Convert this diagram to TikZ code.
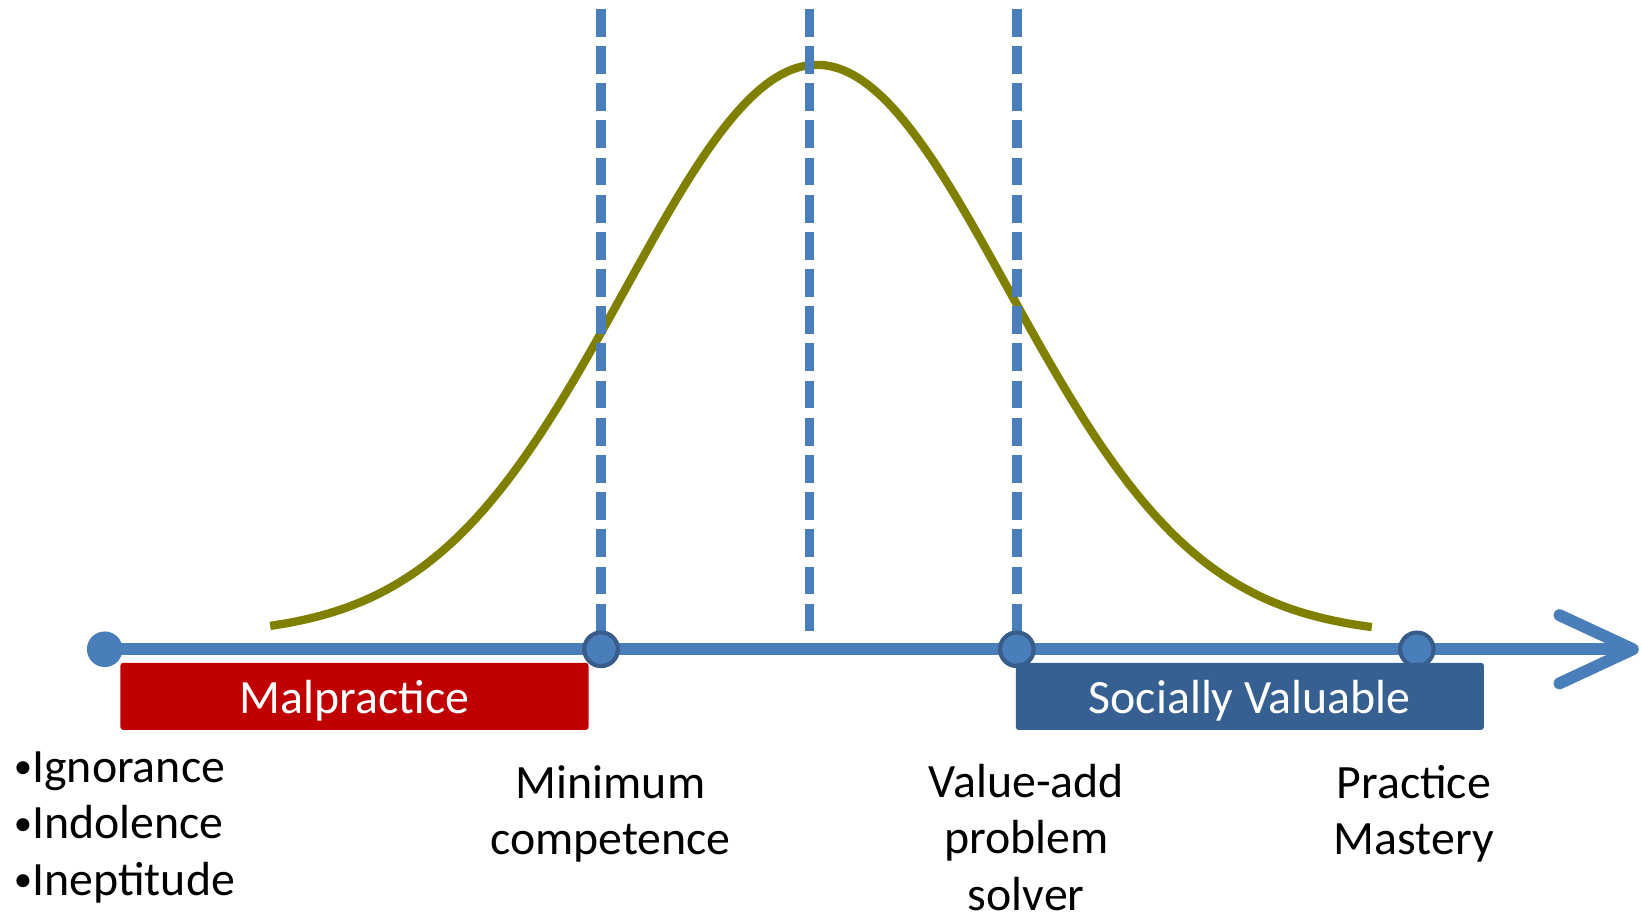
\documentclass[tikz,border=0pt]{standalone}
\usepackage{fontspec}
\setmainfont{Carlito}
\definecolor{axisblue}{RGB}{74,126,187}
\definecolor{dotrim}{RGB}{56,93,138}
\definecolor{malred}{RGB}{192,0,0}
\definecolor{valblue}{RGB}{55,96,146}
\definecolor{bellolive}{RGB}{128,128,0}
\usetikzlibrary{arrows.meta}
\newcommand{\blt}{\raisebox{2pt}{\fontsize{20}{20}\selectfont•}}

\begin{document}
\begin{tikzpicture}[
    stop/.style={
      circle, draw=dotrim, line width=2.2pt, fill=axisblue,
      minimum size=0.64cm, inner sep=0pt
    },
    band/.style={
      rectangle, rounded corners=1.5pt, minimum width=8.94cm,
      minimum height=1.28cm, inner sep=0pt, text=white,
      text height=0.82cm, text depth=0.18cm,
      font=\fontsize{26}{30}\selectfont
    },
    lbl/.style={align=center, anchor=base, inner sep=0pt,
      font=\fontsize{26}{30.7}\selectfont},
    guide/.style={axisblue, line width=5.1pt,
      dash pattern=on 0.53cm off 0.18cm},
    >={Straight Barb[length=1.4cm, width=1.3cm, round]}
  ]
  \useasboundingbox (0,0) rectangle (31.36,17.44);

  %% Bell curve
  \draw[bellolive, line width=4.5pt]
    plot[domain=5.16:26.2, samples=150, smooth]
    (\x, {5.3+10.9*exp(-((\x-15.6)^2)/26.8)});

  %% Axis with start point
  \node[circle, fill=axisblue, minimum size=0.68cm, inner sep=0pt]
    (start) at (2.0,5.04) {};
  \coordinate (tip) at (31.3,5.04);
  \draw[->, axisblue, line width=6.5pt] (start.center) -- (tip);

  %% Points on the axis
  \node[stop] (mincomp) at (11.48,5.04) {};
  \node[stop] (valadd)  at (19.42,5.04) {};
  \node[stop] (mastery) at (27.06,5.04) {};

  %% Dashed guides
  \coordinate (mintop) at (11.48,17.27);
  \coordinate (midtop) at (15.46,17.27);
  \coordinate (midfoot) at (15.46,5.34);
  \coordinate (valtop) at (19.42,17.27);
  \draw[guide] (mintop) -- (mincomp.center);
  \draw[guide] (midtop) -- (midfoot);
  \draw[guide] (valtop) -- (valadd.center);
  \node[stop] at (mincomp) {};
  \node[stop] at (valadd) {};

  %% Bands below the axis
  \node[band, fill=malred]  (malp) at (6.77,4.14)  {Malpractice};
  \node[band, fill=valblue] (soc)  at (23.87,4.14) {Socially Valuable};

  %% Labels (anchored at the baseline of their last line)
  \node[lbl, align=left, anchor=base west] (causes) at (0.26,0.34)
    {\blt Ignorance\\\blt Indolence\\\blt Ineptitude};
  \node[lbl] (minlbl) at (11.66,1.12) {Minimum\\competence};
  \node[lbl] (vallbl) at (19.6,0.06) {Value-add\\problem\\solver};
  \node[lbl] (maslbl) at (27.0,1.12) {Practice\\Mastery};

\end{tikzpicture}
\end{document}
